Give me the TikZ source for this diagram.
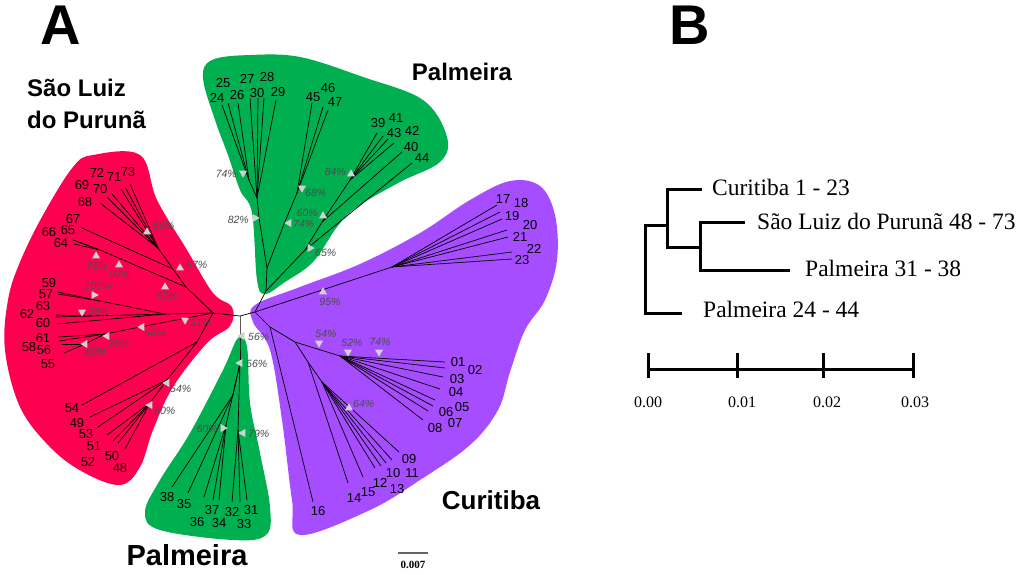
\documentclass[tikz,border=0pt]{standalone}
\usepackage{fontspec}
\setmainfont{Liberation Sans}
\newfontfamily\serifB{Liberation Serif}
\usetikzlibrary{shapes.geometric}
\definecolor{rd}{HTML}{FF0050}
\definecolor{gr}{HTML}{00B050}
\definecolor{pu}{HTML}{A64DFF}
\begin{document}
\begin{tikzpicture}[x=1pt,y=-1pt,
  br/.style={line width=0.7pt, black},
  bt/.style={line width=3pt, black},
  lf/.style={font=\fontsize{13}{13}\selectfont, inner sep=0},
  bs/.style={font=\fontsize{10.5}{10.5}\selectfont\itshape, text=black!70, inner sep=0},
  big/.style={font=\fontsize{24}{24}\selectfont\bfseries, inner sep=0},
  bf/.style={font=\serifB\fontsize{23.5}{23.5}\selectfont, inner sep=0},
  sf/.style={font=\serifB\fontsize{16}{16}\selectfont, inner sep=0},
  tri/.style={isosceles triangle, isosceles triangle apex angle=70, isosceles triangle stretches,
    fill=black!18, minimum height=7pt, minimum width=8pt, inner sep=0, draw=none}]
\useasboundingbox (0,0) rectangle (1024,574);
\fill[white] (0,0) rectangle (1024,574);
% ---- blobs
\fill[rd] plot[smooth cycle, tension=0.6] coordinates {(93,155) (140,155) (157,200) (187,250) (213,293) (232,307) (230,326) (207,343) (173,387) (153,430) (140,467) (120,485) (83,472) (50,447) (20,407) (5,350) (8,300) (20,262) (43,215) (73,167)};
\fill[gr] plot[smooth cycle, tension=0.6] coordinates {(212,60) (250,55) (300,57) (363,77) (423,100) (447,137) (440,162) (400,182) (357,207) (337,227) (313,262) (285,282) (265,294) (257,280) (252,213) (240,190) (228,155) (215,120) (203,78)};
\fill[pu] plot[smooth cycle, tension=0.6] coordinates {(255,305) (300,287) (360,264) (420,233) (470,200) (510,181) (540,186) (555,215) (557,260) (545,300) (525,330) (510,372) (498,410) (470,445) (420,480) (370,510) (300,535) (292,500) (282,420) (270,350) (253,322)};
\fill[gr] plot[smooth cycle, tension=0.6] coordinates {(238,338) (247,347) (250,403) (260,453) (270,507) (266,535) (233,540) (160,530) (145,512) (160,480) (190,433) (223,370)};
% ---- internal coordinates
\coordinate (r0) at (213,313); \coordinate (c0) at (240,316); \coordinate (c1) at (255,312);
\coordinate (bg0) at (240,340);
\coordinate (ru1) at (186,287); \coordinate (ru2) at (173,269); \coordinate (ru3) at (158,248);
\coordinate (rb) at (100,250);
\coordinate (rm1) at (165,314); \coordinate (rm2) at (100,301); \coordinate (rm3) at (90,316);
\coordinate (rl1) at (150,325); \coordinate (rl2) at (105,334); \coordinate (rl3) at (85,344);
\coordinate (rd1) at (197,342); \coordinate (rd2) at (167,380); \coordinate (rd3) at (150,403);
\coordinate (tg0) at (266,291); \coordinate (tg1) at (267,268); \coordinate (tga) at (259,218);
\coordinate (tgb) at (257,198); \coordinate (tgc) at (249,180); \coordinate (tgd) at (284,224);
\coordinate (tge) at (297,193); \coordinate (tgf) at (305,250); \coordinate (tgg) at (322,222);
\coordinate (tgh) at (350,180);
\coordinate (p1) at (392,267); \coordinate (pl) at (270,327); \coordinate (n1) at (295,342);
\coordinate (n2) at (340,356); \coordinate (n3) at (308,362); \coordinate (n4) at (322,382);
\coordinate (bg1) at (240,363); \coordinate (bg2) at (233,395); \coordinate (bg3) at (226,425);
\coordinate (bg4) at (238,430);
% ---- leaf ends
\coordinate (L73) at (130,184); \coordinate (L72) at (125,187); \coordinate (L71) at (121,189);
\coordinate (L70) at (112,194); \coordinate (L69) at (107,197); \coordinate (L68) at (100,203);
\coordinate (L67) at (82,228); \coordinate (L66) at (73,240); \coordinate (L65) at (76,241); \coordinate (L64) at (74,244);
\coordinate (L59) at (58,292); \coordinate (L57) at (58,294); \coordinate (L63) at (56,315); \coordinate (L62) at (56,317); \coordinate (L60) at (57,324);
\coordinate (L61) at (58,337); \coordinate (L58) at (59,341); \coordinate (L56) at (62,344); \coordinate (L55) at (64,353);
\coordinate (L54) at (82,405); \coordinate (L49) at (90,417); \coordinate (L53) at (98,427); \coordinate (L51) at (107,435);
\coordinate (L52) at (113,441); \coordinate (L50) at (118,443); \coordinate (L48) at (125,449);
\coordinate (L24) at (222,105); \coordinate (L25) at (228,103); \coordinate (L26) at (238,103); \coordinate (L27) at (250,98);
\coordinate (L30) at (258,98); \coordinate (L28) at (264,98); \coordinate (L29) at (276,100);
\coordinate (L45) at (312,103); \coordinate (L46) at (323,107); \coordinate (L47) at (328,110);
\coordinate (L39) at (377,133); \coordinate (L41) at (383,136); \coordinate (L43) at (388,139); \coordinate (L42) at (394,143);
\coordinate (L40) at (402,152); \coordinate (L44) at (412,163);
\coordinate (L17) at (497,205); \coordinate (L18) at (500,212); \coordinate (L19) at (502,219); \coordinate (L20) at (507,230);
\coordinate (L21) at (508,237); \coordinate (L22) at (512,252); \coordinate (L23) at (512,259);
\coordinate (L01) at (445,362); \coordinate (L02) at (445,368); \coordinate (L03) at (443,377); \coordinate (L04) at (440,389);
\coordinate (L05) at (435,400); \coordinate (L06) at (433,406); \coordinate (L07) at (428,411); \coordinate (L08) at (423,420);
\coordinate (L09) at (399,452); \coordinate (L11) at (392,460); \coordinate (L13) at (386,463); \coordinate (L10) at (381,466);
\coordinate (L12) at (375,468); \coordinate (L15) at (363,477); \coordinate (L14) at (348,483); \coordinate (L16) at (313,502);
\coordinate (L38) at (172,487); \coordinate (L35) at (188,493); \coordinate (L36) at (204,497); \coordinate (L37) at (213,500);
\coordinate (L34) at (219,500); \coordinate (L32) at (232,502); \coordinate (L33) at (240,502); \coordinate (L31) at (247,500);
% ---- branches
\draw[br] (r0) -- (c0) -- (c1);
\draw[br] (c0) -- (bg0) -- (bg1);
\draw[br] (c1) -- (tg0) -- (tg1);
\draw[br] (c1) -- (p1);
\draw[br] (c1) -- (pl) -- (n1) -- (n2);
\draw[br] (pl) -- (L16);
\draw[br] (n1) -- (n3) -- (n4);
\draw[br] (n3) -- (L14);
\draw[br] (r0) -- (ru1) -- (ru2) -- (ru3);
\draw[br] (ru2) -- (L67);
\draw[br] (ru1) -- (rb);
\draw[br] (r0) -- (rm1) -- (rm2);
\draw[br] (rm1) -- (rm3);
\draw[br] (rm1) -- (L60);
\draw[br] (r0) -- (rl1) -- (rl2) -- (rl3);
\draw[br] (r0) -- (rd1) -- (rd2) -- (rd3);
\draw[br] (rd1) -- (L54);
\draw[br] (tg1) -- (tga) -- (tgb) -- (tgc);
\draw[br] (tg1) -- (tgd) -- (tge);
\draw[br] (tg0) -- (tgf) -- (tgg) -- (tgh);
\draw[br] (tgf) -- (L44);
\draw[br] (tgg) -- (L40);
\draw[br] (bg1) -- (bg2); \draw[br] (bg1) -- (bg3); \draw[br] (bg1) -- (bg4);
\foreach \l in {73,72,71,70,69,68} \draw[br] (ru3) -- (L\l);
\foreach \l in {66,65,64} \draw[br] (rb) -- (L\l);
\foreach \l in {59,57} \draw[br] (rm2) -- (L\l);
\foreach \l in {63,62} \draw[br] (rm3) -- (L\l);
\foreach \l in {61,58} \draw[br] (rl2) -- (L\l);
\foreach \l in {56,55} \draw[br] (rl3) -- (L\l);
\foreach \l in {49,53} \draw[br] (rd2) -- (L\l);
\foreach \l in {51,52,50,48} \draw[br] (rd3) -- (L\l);
\foreach \l in {24,25,26} \draw[br] (tgc) -- (L\l);
\foreach \l in {27,30,28,29} \draw[br] (tgb) -- (L\l);
\foreach \l in {45,46,47} \draw[br] (tge) -- (L\l);
\foreach \l in {39,41,43,42} \draw[br] (tgh) -- (L\l);
\foreach \l in {17,18,19,20,21,22,23} \draw[br] (p1) -- (L\l);
\foreach \l in {01,02,03,04,05,06,07,08} \draw[br] (n2) -- (L\l);
\foreach \l in {09,11,13,10,12,15} \draw[br] (n4) -- (L\l);
\foreach \l in {38,35} \draw[br] (bg2) -- (L\l);
\foreach \l in {36,37,34} \draw[br] (bg3) -- (L\l);
\foreach \l in {32,33,31} \draw[br] (bg4) -- (L\l);
% ---- bootstrap triangles and values
\node[tri, shape border rotate=90] (t1) at (147,232) {};  \node[bs, anchor=west] (v1) at (153,226) {56\%};
\node[tri, shape border rotate=90] (t2) at (180,268) {};  \node[bs, anchor=west] (v2) at (186,265) {67\%};
\node[tri, shape border rotate=90] (t3) at (96,256) {};   \node[bs] (v3) at (97,266) {78\%};
\node[tri, shape border rotate=90] (t4) at (119,265) {};  \node[bs] (v4) at (120,275) {97\%};
\node[tri, shape border rotate=90] (t5) at (165,287) {};  \node[bs] (v5) at (167,296) {57\%};
\node[tri, shape border rotate=0] (t6) at (94,295) {};    \node[bs] (v6) at (98,286) {100\%};
\node[tri, shape border rotate=270] (t7) at (82,312) {};  \node[bs, anchor=west] (v7) at (88,312) {98\%};
\node[tri, shape border rotate=270] (t8) at (185,320) {}; \node[bs, anchor=west] (v8) at (190,323) {51\%};
\node[tri, shape border rotate=135] (t9) at (142,327) {}; \node[bs, anchor=west] (v9) at (144,333) {68\%};
\node[tri, shape border rotate=135] (t10) at (107,336) {}; \node[bs, anchor=west] (v10) at (108,344) {76\%};
\node[tri, shape border rotate=135] (t11) at (85,344) {};  \node[bs, anchor=west] (v11) at (85,352) {80\%};
\node[tri, shape border rotate=135] (t12) at (167,383) {}; \node[bs, anchor=west] (v12) at (170,389) {54\%};
\node[tri, shape border rotate=135] (t13) at (150,405) {}; \node[bs, anchor=west] (v13) at (154,411) {80\%};
\node[tri, shape border rotate=270] (t14) at (243,173) {}; \node[bs, anchor=east] (v14) at (237,174) {74\%};
\node[tri, shape border rotate=0] (t15) at (255,218) {};   \node[bs, anchor=east] (v15) at (249,220) {82\%};
\node[tri, shape border rotate=270] (t16) at (302,188) {}; \node[bs, anchor=west] (v16) at (305,193) {68\%};
\node[tri, shape border rotate=180] (t17) at (289,223) {}; \node[bs, anchor=west] (v17) at (293,224) {74\%};
\node[tri, shape border rotate=90] (t18) at (351,174) {};  \node[bs, anchor=east] (v18) at (346,172) {84\%};
\node[tri, shape border rotate=45] (t19) at (323,216) {};  \node[bs, anchor=east] (v19) at (318,213) {60\%};
\node[tri, shape border rotate=315] (t20) at (310,248) {}; \node[bs, anchor=west] (v20) at (315,253) {65\%};
\node[tri, shape border rotate=90] (t21) at (323,292) {};  \node[bs] (v21) at (330,302) {95\%};
\node[tri, shape border rotate=270] (t22) at (319,343) {}; \node[bs] (v22) at (326,334) {54\%};
\node[tri, shape border rotate=270] (t23) at (348,352) {}; \node[bs] (v23) at (352,343) {52\%};
\node[tri, shape border rotate=270] (t24) at (379,352) {}; \node[bs] (v24) at (380,342) {74\%};
\node[tri, shape border rotate=90] (t25) at (349,408) {};  \node[bs, anchor=west] (v25) at (353,404) {64\%};
\node[tri, shape border rotate=180] (t26) at (242,336) {}; \node[bs, anchor=west] (v26) at (248,337) {56\%};
\node[tri, shape border rotate=180] (t27) at (240,363) {}; \node[bs, anchor=west] (v27) at (246,364) {56\%};
\node[tri, shape border rotate=0] (t28) at (223,428) {};   \node[bs, anchor=east] (v28) at (218,429) {60\%};
\node[tri, shape border rotate=180] (t29) at (243,433) {}; \node[bs, anchor=west] (v29) at (248,434) {79\%};
% ---- leaf labels
\foreach \n/\x/\y in {73/128/172,72/97/173,71/114/177,69/82/185,70/100/189,68/85/202,67/73/219,66/49/232,65/68/230,64/61/243,
  59/49/283,57/46/294,63/43/306,62/27/314,60/43/323,61/43/338,58/29/347,56/44/350,55/48/364,
  54/72/408,49/77/423,53/86/434,51/94/446,52/88/462,50/112/456,48/120/468,
  25/223/83,24/217/98,26/237/95,27/247/79,30/257/93,28/267/77,29/278/92,45/313/97,46/328/88,47/335/102,
  39/378/123,41/396/118,43/394/133,42/412/131,40/411/147,44/422/158,
  17/503/199,18/521/203,19/512/216,20/530/225,21/520/237,22/534/249,23/522/260,
  01/458/362,02/475/370,03/457/379,04/456/392,05/462/407,06/446/412,07/455/423,08/435/428,
  09/409/459,10/393/473,11/412/473,12/380/483,13/397/489,14/354/498,15/368/492,16/318/511,
  38/167/497,35/184/504,37/212/510,36/197/522,34/219/523,32/232/512,33/244/524,31/251/510}
  \node[lf] (lab\n) at (\x,\y) {\n};
% ---- cluster names
\node[font=\fontsize{56}{56}\selectfont\bfseries, inner sep=0] (A) at (61,25) {A};
\node[font=\fontsize{56}{56}\selectfont\bfseries, inner sep=0] (B) at (690,25) {B};
\node[big, anchor=west] (slz1) at (27,88) {São Luiz};
\node[big, anchor=west] (slz2) at (27,120) {do Purunã};
\node[big] (pal1) at (462,72) {Palmeira};
\node[big, font=\fontsize{26}{26}\selectfont\bfseries] (cur) at (491,500) {Curitiba};
\node[big, font=\fontsize{29}{29}\selectfont\bfseries] (pal2) at (187,555) {Palmeira};
% ---- scale bar A
\coordinate (sa1) at (398,553); \coordinate (sa2) at (428,553);
\draw[line width=1.2pt, black!60] (sa1) -- (sa2);
\node[font=\serifB\fontsize{11}{11}\selectfont\bfseries, inner sep=0] (sal) at (413,565) {0.007};
% ---- panel B tree
\coordinate (bl1) at (702,189); \coordinate (bl2) at (745,222); \coordinate (bl3) at (790,270); \coordinate (bl4) at (682,313);
\coordinate (bi1) at (667,225); \coordinate (bi2) at (700,247); \coordinate (broot) at (645,269);
\draw[bt] (bl1) -| (bi1);
\draw[bt] (bi2) -| (bi1);
\draw[bt] (bl2) -| (bi2);
\draw[bt] (bl3) -| (bi2);
\draw[bt] (bi1) -| (broot);
\draw[bt] (bl4) -| (broot);
\node[bf, anchor=base west] (bt1) at (712,195) {Curitiba 1 - 23};
\node[bf, anchor=base west] (bt2) at (757,229) {São Luiz do Purunã 48 - 73};
\node[bf, anchor=base west] (bt3) at (805,276) {Palmeira 31 - 38};
\node[bf, anchor=base west] (bt4) at (703,317) {Palmeira 24 - 44};
% ---- panel B scale
\coordinate (s0) at (648,369); \coordinate (s1) at (737,369); \coordinate (s2) at (823,369); \coordinate (s3) at (913,369);
\draw[bt] (s0) -- (s3);
\foreach \s in {s0,s1,s2,s3} \draw[bt] ([yshift=-9pt]\s) -- ([yshift=16pt]\s);
\node[sf] (sl0) at (648,402) {0.00};
\node[sf] (sl1) at (742,402) {0.01};
\node[sf] (sl2) at (827,402) {0.02};
\node[sf] (sl3) at (915,402) {0.03};
\end{tikzpicture}
\end{document}
